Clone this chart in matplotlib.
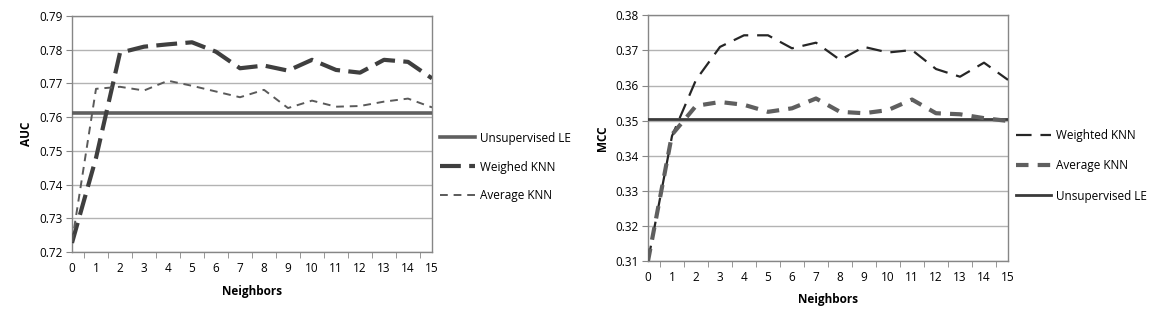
import matplotlib
matplotlib.use("Agg")
import matplotlib.pyplot as plt
import numpy as np

plt.rcParams['font.family'] = ['Open Sans', 'DejaVu Sans']

neighbors = list(range(16))
xtick_labels = [str(n) for n in neighbors]

# Left chart (AUC)
auc_weighed = [0.7227, 0.7479, 0.7791, 0.7809, 0.7816, 0.7822, 0.7794, 0.7745,
               0.7753, 0.7738, 0.7770, 0.7740, 0.7732, 0.7770, 0.7764, 0.7715]
auc_average = [0.7230, 0.7684, 0.7690, 0.7679, 0.7708, 0.7693, 0.7676, 0.7659,
               0.7681, 0.7627, 0.7649, 0.7631, 0.7633, 0.7646, 0.7655, 0.7629]
auc_unsup = 0.7612
auc_ticks = [0.72, 0.73, 0.74, 0.75, 0.76, 0.77, 0.78, 0.79]

# Right chart (MCC)
mcc_weighted = [0.3100, 0.3456, 0.3616, 0.3710, 0.3743, 0.3743, 0.3706, 0.3722,
                0.3673, 0.3710, 0.3694, 0.3701, 0.3647, 0.3625, 0.3665, 0.3616]
mcc_average = [0.3100, 0.3460, 0.3542, 0.3553, 0.3545, 0.3525, 0.3535, 0.3563,
               0.3525, 0.3521, 0.3530, 0.3560, 0.3521, 0.3518, 0.3507, 0.3499]
mcc_unsup = 0.3505
mcc_ticks = [0.31, 0.32, 0.33, 0.34, 0.35, 0.36, 0.37, 0.38]

W, H = 1156, 319
fig = plt.figure(figsize=(W / 100, H / 100), dpi=100)
fig.patch.set_facecolor('white')

FS = 8.5
spine_c = '#868686'
grid_c = '#b3b3b3'


def style_axes(ax, yticks, ylabel):
    ax.set_xlim(0, 15)
    ax.set_ylim(yticks[0], yticks[-1])
    ax.set_yticks(yticks)
    ax.set_yticklabels([f"{t:.2f}" for t in yticks], fontsize=FS)
    ax.set_xticks(neighbors)
    ax.set_xticklabels(xtick_labels, fontsize=FS)
    ax.tick_params(axis='x', which='major', length=0, pad=7)
    ax.set_xticks([n + 0.5 for n in neighbors[:-1]] + [15], minor=True)
    ax.tick_params(axis='x', which='minor', length=4, color=spine_c, direction='out')
    ax.tick_params(axis='y', which='major', length=4, color=spine_c, direction='out', pad=3)
    ax.grid(axis='y', color=grid_c, linewidth=1)
    ax.set_axisbelow(True)
    for s in ax.spines.values():
        s.set_color(spine_c)
        s.set_linewidth(1)
    ax.set_xlabel('Neighbors', fontsize=FS, fontweight='bold', labelpad=4)
    ax.set_ylabel(ylabel, fontsize=FS, fontweight='bold', labelpad=4)


# Left axes
ax1 = fig.add_axes([72 / W, 1 - 252 / H, 360 / W, 236 / H])
ax1.axhline(auc_unsup, color='#5f5f5f', linewidth=2.6, label='Unsupervised LE', zorder=3)
ax1.plot(neighbors, auc_weighed, color='#3f3f3f', linewidth=3.0,
         dashes=(5, 2), label='Weighed KNN', zorder=4)
ax1.plot(neighbors, auc_average, color='#5a5a5a', linewidth=1.4,
         dashes=(4, 3), label='Average KNN', zorder=4)
style_axes(ax1, auc_ticks, 'AUC')
ax1.xaxis.set_label_coords(0.5, -0.14)
ax1.legend(loc='center left', bbox_to_anchor=(440 / W, 1 - 167 / H),
           bbox_transform=fig.transFigure, frameon=False, fontsize=FS,
           handlelength=3.0, handletextpad=0.4, labelspacing=1.35,
           borderpad=0, borderaxespad=0)

# Right axes
ax2 = fig.add_axes([648 / W, 1 - 261 / H, 360 / W, 245.7 / H])
ax2.plot(neighbors, mcc_weighted, color='#262626', linewidth=1.6,
         dashes=(7, 4), label='Weighted KNN', zorder=4)
ax2.plot(neighbors, mcc_average, color='#5f5f5f', linewidth=3.0,
         dashes=(3, 2.2), label='Average KNN', zorder=4)
ax2.axhline(mcc_unsup, color='#3a3a3a', linewidth=2.0, label='Unsupervised LE', zorder=3)
style_axes(ax2, mcc_ticks, 'MCC')
ax2.xaxis.set_label_coords(0.5, -0.13)
ax2.legend(loc='center left', bbox_to_anchor=(1016 / W, 1 - 166 / H),
           bbox_transform=fig.transFigure, frameon=False, fontsize=FS,
           handlelength=3.0, handletextpad=0.4, labelspacing=1.45,
           borderpad=0, borderaxespad=0)

fig.savefig('out.png', dpi=100, facecolor='white')
